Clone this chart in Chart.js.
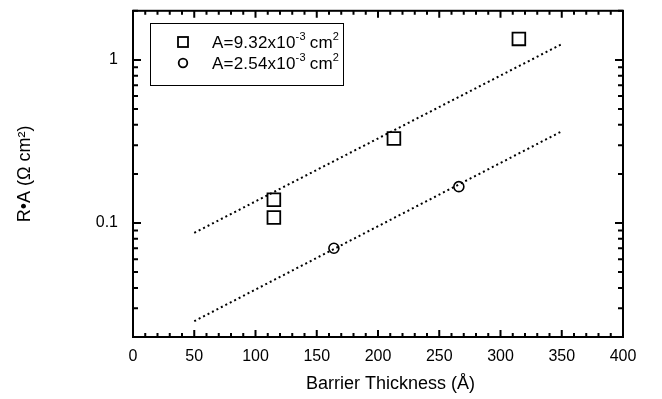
<!DOCTYPE html>
<html>
<head>
<meta charset="utf-8">
<script src="https://cdn.jsdelivr.net/npm/chart.js@4"></script>
<style>
  body { margin: 0; background: #fff; }
  #wrap { width: 662px; height: 399px; }
</style>
</head>
<body>
<div id="wrap"><canvas id="chart" width="662" height="399"></canvas></div>
<script>
// data
const bigX = [115, 115, 213, 315];
const bigY = [0.139, 0.108, 0.33, 1.345];
const smallX = [164, 266];
const smallY = [0.07, 0.167];

// dotted fit lines (end points)
const fitX = [50, 350];
const bigFitY = [0.087, 1.25];
const smallFitY = [0.025, 0.365];

const xTicks = [0, 50, 100, 150, 200, 250, 300, 350, 400];
const yLabels = [0.1, 1];

const font = "'Liberation Sans', Arial, sans-serif";
const toPts = (xs, ys) => xs.map((x, i) => ({ x, y: ys[i] }));

// frame, inward ticks on all four sides, y labels and the legend box
const frame = {
  id: "frame",
  afterDatasetsDraw(chart) {
    const { ctx, chartArea: a, scales } = chart;
    const x = scales.x, y = scales.y;
    ctx.save();
    ctx.strokeStyle = "#000";
    ctx.lineWidth = 2;
    ctx.strokeRect(a.left, a.top, a.right - a.left, a.bottom - a.top);

    for (let v = 0; v <= 400; v += 10) {
      const px = x.getPixelForValue(v);
      const len = v % 50 === 0 ? 7 : 4;
      ctx.beginPath();
      ctx.moveTo(px, a.bottom); ctx.lineTo(px, a.bottom - len);
      ctx.moveTo(px, a.top); ctx.lineTo(px, a.top + len);
      ctx.stroke();
    }
    for (const dec of [0.01, 0.1, 1]) {
      for (let m = 1; m <= 9; m++) {
        const v = dec * m;
        if (v < y.min - 1e-9 || v > y.max + 1e-9) continue;
        const py = y.getPixelForValue(v);
        const len = m === 1 ? 8 : 5;
        ctx.beginPath();
        ctx.moveTo(a.left, py); ctx.lineTo(a.left + len, py);
        ctx.moveTo(a.right, py); ctx.lineTo(a.right - len, py);
        ctx.stroke();
      }
    }

    // y tick labels
    ctx.fillStyle = "#000";
    ctx.font = "16px " + font;
    ctx.textAlign = "right";
    ctx.textBaseline = "middle";
    yLabels.forEach((v) => {
      ctx.fillText(String(v), a.left - 15, y.getPixelForValue(v));
    });
    ctx.textAlign = "left";

    // legend
    const bx = 150, by = 23, bw = 193, bh = 62;
    ctx.lineWidth = 1;
    ctx.strokeRect(bx + 0.5, by + 0.5, bw, bh);
    const rows = [
      { ds: chart.data.datasets[0], num: "A=9.32x10", y: 42 },
      { ds: chart.data.datasets[1], num: "A=2.54x10", y: 63 },
    ];
    rows.forEach((r) => {
      ctx.lineWidth = 1.8;
      ctx.strokeStyle = "#000";
      const cx = 183;
      if (r.ds.pointStyle === "rect") {
        ctx.strokeRect(cx - 5, r.y - 5, 10, 10);
      } else {
        ctx.beginPath();
        ctx.arc(cx, r.y, 4.3, 0, Math.PI * 2);
        ctx.stroke();
      }
      ctx.textBaseline = "alphabetic";
      ctx.letterSpacing = "0.2px";
      let tx = 212;
      const base = r.y + 6;
      ctx.font = "17px " + font;
      ctx.fillText(r.num, tx, base);
      tx += ctx.measureText(r.num).width;
      ctx.font = "11px " + font;
      ctx.fillText("-3", tx, base - 8);
      tx += ctx.measureText("-3").width + 4;
      ctx.font = "17px " + font;
      ctx.fillText("cm", tx, base);
      tx += ctx.measureText("cm").width;
      ctx.font = "11px " + font;
      ctx.fillText("2", tx, base - 8);
    });
    ctx.restore();
  },
};

new Chart(document.getElementById("chart"), {
  type: "scatter",
  data: {
    datasets: [
      {
        label: "A=9.32x10-3 cm2",
        data: toPts(bigX, bigY),
        pointStyle: "rect",
        pointRadius: 9,
        borderColor: "#000",
        backgroundColor: "transparent",
        borderWidth: 1.8,
      },
      {
        label: "A=2.54x10-3 cm2",
        data: toPts(smallX, smallY),
        pointStyle: "circle",
        pointRadius: 5,
        borderColor: "#000",
        backgroundColor: "transparent",
        borderWidth: 1.6,
      },
      {
        label: "fit1",
        type: "line",
        data: toPts(fitX, bigFitY),
        borderColor: "#000",
        borderWidth: 2,
        borderDash: [2, 3],
        pointRadius: 0,
        fill: false,
      },
      {
        label: "fit2",
        type: "line",
        data: toPts(fitX, smallFitY),
        borderColor: "#000",
        borderWidth: 2,
        borderDash: [2, 3],
        pointRadius: 0,
        fill: false,
      },
    ],
  },
  options: {
    responsive: false,
    animation: false,
    layout: { padding: { left: 0, right: 39, top: 5, bottom: 0 } },
    plugins: { legend: { display: false }, tooltip: { enabled: false } },
    scales: {
      x: {
        type: "linear",
        min: 0,
        max: 400,
        afterBuildTicks: (s) => { s.ticks = xTicks.map((v) => ({ value: v })); },
        afterFit: (s) => { s.height = 62; },
        grid: { display: false, drawTicks: false },
        border: { display: false },
        ticks: { color: "#000", font: { family: font, size: 16 }, padding: 10, maxRotation: 0 },
        title: {
          display: true,
          text: "     Barrier Thickness (Å)",
          color: "#000",
          font: { family: font, size: 18 },
          padding: { top: 0, bottom: 4 },
        },
      },
      y: {
        type: "logarithmic",
        min: 0.02,
        max: 2,
        afterFit: (s) => { s.width = 133; },
        grid: { display: false, drawTicks: false },
        border: { display: false },
        ticks: { display: false },
        title: {
          display: true,
          text: "R•A (Ω cm²)",
          color: "#000",
          font: { family: font, size: 18 },
          padding: { top: 14, bottom: 0 },
        },
      },
    },
  },
  plugins: [frame],
});
</script>
</body>
</html>
